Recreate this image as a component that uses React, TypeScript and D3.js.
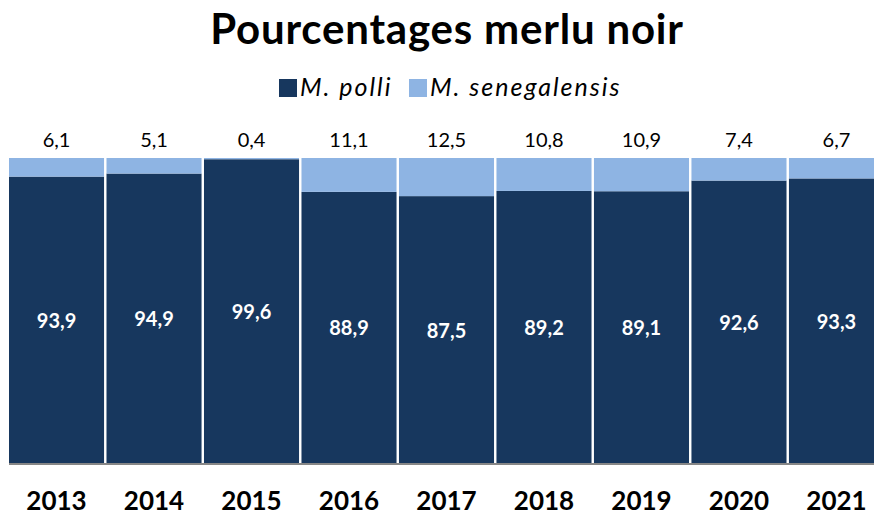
import { useMemo } from "react";
import * as d3 from "d3";

// data
const years = ["2013", "2014", "2015", "2016", "2017", "2018", "2019", "2020", "2021"];
const polli = [93.9, 94.9, 99.6, 88.9, 87.5, 89.2, 89.1, 92.6, 93.3];
const senegalensis = [6.1, 5.1, 0.4, 11.1, 12.5, 10.8, 10.9, 7.4, 6.7];
const seriesNames = ["M. polli", "M. senegalensis"];

const colors = ["#17375e", "#8eb4e3"];
const font = "Lato, 'Open Sans', sans-serif";
const fmt = (v: number) => v.toFixed(1).replace(".", ",");

export default function App() {
  const width = 874;
  const height = 515;
  const plotTop = 158;
  const plotBottom = 463;

  const x = useMemo(
    () => d3.scaleBand().domain(years).range([9, 884]).paddingInner(0.025).paddingOuter(0),
    []
  );
  const y = useMemo(() => d3.scaleLinear().domain([0, 100]).range([plotBottom, plotTop]), []);

  const stacked = useMemo(() => {
    const rows = years.map((yr, i) => ({ year: yr, polli: polli[i], sene: senegalensis[i] }));
    return d3.stack<any>().keys(["polli", "sene"])(rows);
  }, []);

  return (
    <svg
      width={width}
      height={height}
      style={{ position: "absolute", left: 0, top: 0, background: "#fff" }}
      fontFamily={font}
    >
      <text x={447} y={44} textAnchor="middle" fontSize={42} fontWeight={700} letterSpacing={0.8} fill="#000">
        Pourcentages merlu noir
      </text>

      {/* legend */}
      <g fontSize={25} fontStyle="italic" fill="#000" letterSpacing={2}>
        <rect x={279} y={79} width={18} height={18} fill={colors[0]} />
        <text x={300} y={96}>{seriesNames[0]}</text>
        <rect x={409} y={79} width={18} height={18} fill={colors[1]} />
        <text x={430} y={96}>{seriesNames[1]}</text>
      </g>

      {stacked.map((layer, li) => (
        <g key={layer.key} fill={colors[li]}>
          {layer.map((d: any) => (
            <rect
              key={d.data.year}
              x={x(d.data.year)}
              y={y(d[1])}
              width={x.bandwidth()}
              height={y(d[0]) - y(d[1])}
            />
          ))}
        </g>
      ))}

      {/* baseline */}
      <line x1={9} x2={width} y1={plotBottom + 1} y2={plotBottom + 1} stroke="#868686" strokeWidth={2} />

      {/* values inside dark bars */}
      {years.map((yr, i) => (
        <text
          key={"in" + yr}
          x={(x(yr) ?? 0) + x.bandwidth() / 2}
          y={(y(0) + y(polli[i])) / 2}
          textAnchor="middle"
          dominantBaseline="central"
          fontSize={20}
          fontWeight={700}
          fill="#fff"
        >
          {fmt(polli[i])}
        </text>
      ))}

      {/* values above bars */}
      {years.map((yr, i) => (
        <text
          key={"top" + yr}
          x={(x(yr) ?? 0) + x.bandwidth() / 2}
          y={147}
          textAnchor="middle"
          fontSize={20}
          fill="#000"
        >
          {fmt(senegalensis[i])}
        </text>
      ))}

      {/* year labels */}
      {years.map((yr) => (
        <text
          key={"yr" + yr}
          x={(x(yr) ?? 0) + x.bandwidth() / 2}
          y={510}
          textAnchor="middle"
          fontSize={26}
          fontWeight={700}
          fill="#000"
        >
          {yr}
        </text>
      ))}
    </svg>
  );
}
